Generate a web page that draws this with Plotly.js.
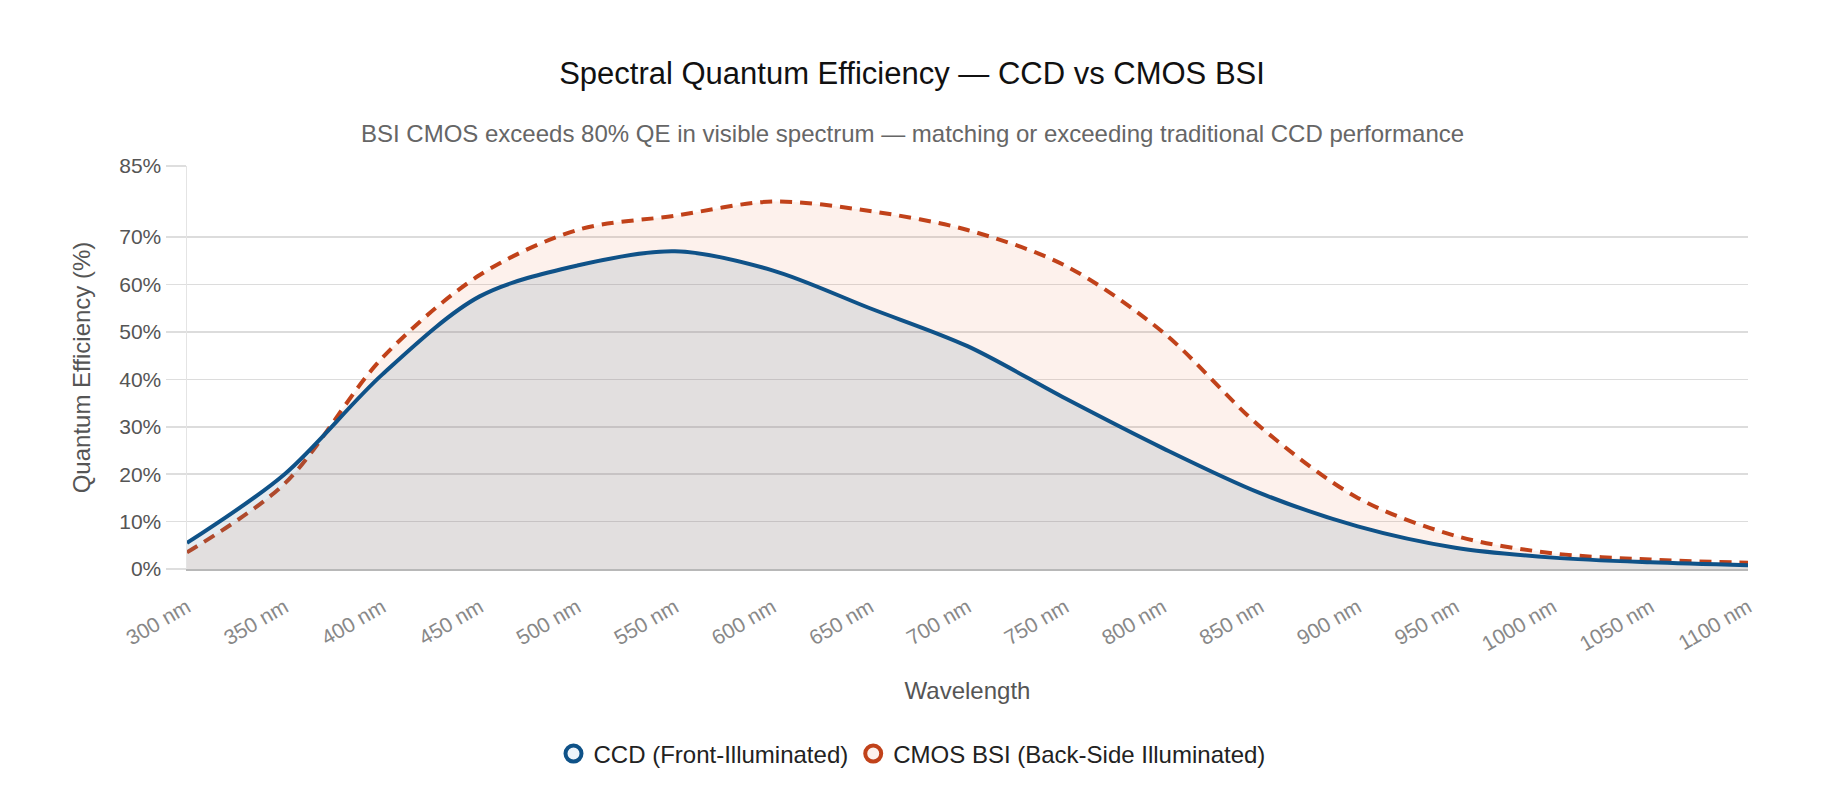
<!DOCTYPE html>
<html>
<head>
<meta charset="utf-8">
<script src="https://cdn.plot.ly/plotly-3.0.1.min.js"></script>
<style>
  html, body { margin: 0; padding: 0; background: #ffffff; }
  #chart { width: 1824px; height: 805px; }
</style>
</head>
<body>
<div id="chart"></div>
<script>
// Wavelength categories (nm)
const wavelengths = [300, 350, 400, 450, 500, 550, 600, 650, 700, 750, 800, 850, 900, 950, 1000, 1050, 1100];
// Quantum efficiency, %
const ccdQE  = [5.5, 20, 41, 57.5, 64, 67, 63, 55, 47, 36, 25.5, 16, 9, 4.5, 2.4, 1.4, 0.8];
const cmosQE = [3.5, 18, 44.5, 62, 71.5, 74.5, 77.5, 75.5, 71.5, 64, 50, 30, 15, 7, 3.3, 2, 1.3];
// Tick labels
const xTickLabels = wavelengths.map(w => w + ' nm');
const yTickValues = [0, 10, 20, 30, 40, 50, 60, 70, 85];
const yTickLabels = yTickValues.map(v => v + '%');
const seriesNames = ['CCD (Front-Illuminated)', 'CMOS BSI (Back-Side Illuminated)'];

const FONT = 'Arial, "Liberation Sans", sans-serif';
const ccdColor = '#0f5288';
const cmosColor = '#c1421a';

const traces = [
  {
    x: wavelengths, y: cmosQE, type: 'scatter', mode: 'lines',
    name: seriesNames[1], showlegend: false,
    line: { color: cmosColor, width: 4, dash: '12px,8px', shape: 'spline', smoothing: 0.9 },
    fill: 'tozeroy', fillcolor: 'rgba(240,120,70,0.10)', hoverinfo: 'skip'
  },
  {
    x: wavelengths, y: ccdQE, type: 'scatter', mode: 'lines',
    name: seriesNames[0], showlegend: false,
    line: { color: ccdColor, width: 4, shape: 'spline', smoothing: 0.9 },
    fill: 'tozeroy', fillcolor: 'rgba(77,118,153,0.15)', hoverinfo: 'skip'
  },
  {
    x: [null], y: [null], type: 'scatter', mode: 'markers', name: seriesNames[0],
    marker: { symbol: 'circle', size: 16, color: '#eef4fa', line: { color: ccdColor, width: 4 } }
  },
  {
    x: [null], y: [null], type: 'scatter', mode: 'markers', name: seriesNames[1],
    marker: { symbol: 'circle', size: 16, color: '#fdf1ec', line: { color: cmosColor, width: 4 } }
  }
];

const layout = {
  width: 1824, height: 805,
  paper_bgcolor: '#ffffff', plot_bgcolor: '#ffffff',
  margin: { l: 187, r: 76, t: 166, b: 236 },
  font: { family: FONT, color: '#444' },
  title: {
    text: 'Spectral Quantum Efficiency — CCD vs CMOS BSI',
    font: { family: FONT, size: 31, color: '#111' },
    x: 0.5, xref: 'container', xanchor: 'center',
    y: 1 - 73 / 805, yref: 'container', yanchor: 'middle'
  },
  annotations: [{
    text: 'BSI CMOS exceeds 80% QE in visible spectrum — matching or exceeding traditional CCD performance',
    xref: 'paper', yref: 'paper', x: (912 - 187) / 1561, y: (569 - 134) / 403,
    xanchor: 'center', yanchor: 'middle', showarrow: false,
    font: { family: FONT, size: 24, color: '#666' }
  }],
  xaxis: {
    type: 'linear', range: [300, 1100],
    tickvals: wavelengths, ticktext: xTickLabels, tickangle: -30,
    tickfont: { family: FONT, size: 21, color: '#888' },
    showgrid: false, zeroline: false,
    showline: true, linecolor: '#b8b8b8', linewidth: 2,
    ticks: '', ticklabelstandoff: 16,
    title: { text: 'Wavelength', font: { family: FONT, size: 24, color: '#555' }, standoff: 28 }
  },
  yaxis: {
    range: [0, 85], tickvals: yTickValues, ticktext: yTickLabels,
    tickfont: { family: FONT, size: 21, color: '#555' },
    showgrid: true, gridcolor: '#dcdcdc', gridwidth: 1.5,
    zeroline: false, showline: true, linecolor: '#e4e4e4', linewidth: 1.5,
    ticks: 'outside', ticklen: 20, tickcolor: '#dedede', tickwidth: 1.5,
    title: { text: 'Quantum Efficiency (%)', font: { family: FONT, size: 24, color: '#555' }, standoff: 22 }
  },
  showlegend: true,
  legend: {
    orientation: 'h', x: (912 - 187) / 1561, xanchor: 'center',
    y: (569 - 754) / 403, yanchor: 'middle',
    font: { family: FONT, size: 24, color: '#222' },
    itemsizing: 'trace', bgcolor: 'rgba(0,0,0,0)', itemwidth: 30
  },
  hovermode: false
};

Plotly.newPlot('chart', traces, layout, { displayModeBar: false, staticPlot: true });
</script>
</body>
</html>
